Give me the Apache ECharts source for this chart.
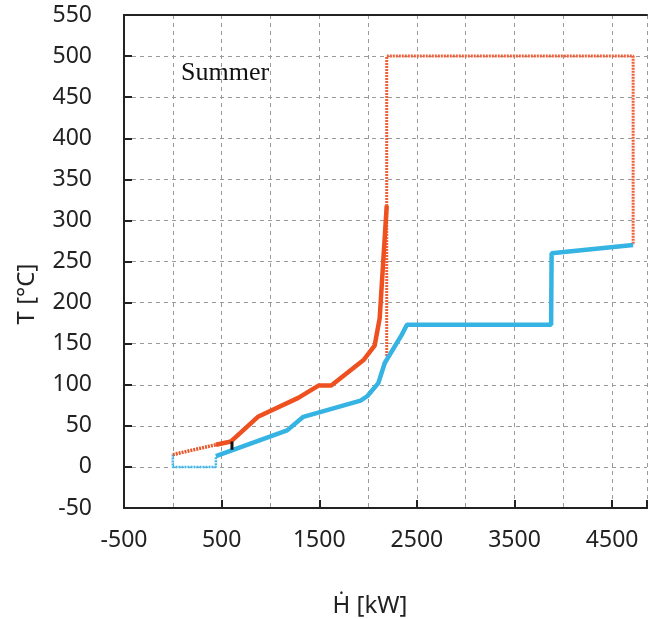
<!DOCTYPE html>
<html><head><meta charset="utf-8">
<script src="https://cdn.jsdelivr.net/npm/echarts@6/dist/echarts.min.js"></script>
<style>html,body{margin:0;padding:0;background:#fff}#c{width:650px;height:619px}</style>
</head><body><div id="c"></div>
<script>
// Hot composite curve (solid red)
const hotH = [441, 596, 872, 1285, 1492, 1623, 1957, 2067, 2119, 2191];
const hotT = [27, 31, 61, 84, 99, 99, 130.5, 147.5, 181, 318];
// Hot composite start segment (dotted)
const hotStartH = [0, 441];
const hotStartT = [15, 27];
// Hot utility (dotted red)
const hotUtilH = [2191, 2191, 4715, 4715];
const hotUtilT = [135, 500, 500, 270];
// Cold composite curve (solid blue)
const coldH = [441, 1171, 1337, 1923, 1991, 2105, 2171, 2346, 2398, 3875, 3880, 4715];
const coldT = [13, 44.5, 61, 80.6, 86, 102, 126.5, 161, 173, 173, 260, 270];
// Cold utility (dotted blue)
const coldUtilH = [0, 0, 441, 441];
const coldUtilT = [15, 0, 0, 12];
// Pinch marker
const pinchH = [606, 606];
const pinchT = [21, 31];
// Axis tick labels
const xLabels = [-500, 500, 1500, 2500, 3500, 4500];

const pairs = (a, b) => a.map((v, i) => [v, b[i]]);
const FONT = 'Noto Sans';
const grid = {left: 124, right: 0, top: 15, bottom: 111};
const gridLine = {show: true, lineStyle: {color: '#9a9a9a', type: [4, 4], width: 1}};
const axisLine = {show: true, onZero: false, lineStyle: {color: '#222', width: 2}};
const XMAX = 4857;

const chart = echarts.init(document.getElementById('c'));
chart.setOption({
  animation: false,
  grid: grid,
  xAxis: [
    {type: 'value', min: -500, max: XMAX, interval: 500, position: 'bottom',
     axisLine: axisLine, axisTick: {show: false}, splitLine: gridLine,
     axisLabel: {color: '#222', fontSize: 23, fontFamily: FONT, margin: 21,
       formatter: v => xLabels.indexOf(v) >= 0 ? String(v) : ''}},
    {type: 'value', min: -500, max: XMAX, interval: 1000, position: 'bottom',
     axisLine: axisLine, axisTick: {show: true, inside: true, length: 8, lineStyle: {color: '#222', width: 2}},
     splitLine: {show: false}, axisLabel: {show: false}},
    {type: 'value', min: -500, max: XMAX, position: 'top',
     axisLine: axisLine, axisTick: {show: false}, splitLine: {show: false}, axisLabel: {show: false}}
  ],
  yAxis: {type: 'value', min: -50, max: 550, interval: 50,
    axisLine: axisLine, axisTick: {show: true, inside: true, length: 8, lineStyle: {color: '#222', width: 2}},
    splitLine: gridLine,
    axisLabel: {color: '#222', fontSize: 23, fontFamily: FONT, margin: 32}},
  series: [
    {type: 'line', data: pairs(coldUtilH, coldUtilT), showSymbol: false, z: 3,
     lineStyle: {color: '#3db8ea', width: 2.5, type: [2, 1]}},
    {type: 'line', data: pairs(hotStartH, hotStartT), showSymbol: false, z: 3,
     lineStyle: {color: '#e8562a', width: 3.5, type: [2, 1]}},
    {type: 'line', data: pairs(hotUtilH, hotUtilT), showSymbol: false, z: 3,
     lineStyle: {color: '#f0603a', width: 3, type: [2, 1]}},
    {type: 'line', data: pairs(coldH, coldT), showSymbol: false, z: 4,
     lineStyle: {color: '#35b3e3', width: 4.5}},
    {type: 'line', data: pairs(hotH, hotT), showSymbol: false, z: 5,
     lineStyle: {color: '#ee5020', width: 4.5}},
    {type: 'line', data: pairs(pinchH, pinchT), showSymbol: false, z: 6,
     lineStyle: {color: '#111', width: 3}}
  ],
  graphic: [
    {type: 'text', left: 181, top: 60, style: {text: 'Summer', fontFamily: 'Liberation Serif', fontSize: 26, fill: '#111'}},
    {type: 'text', x: 27, y: 294, rotation: Math.PI / 2,
     style: {text: 'T [°C]', fontFamily: FONT, fontSize: 24, fill: '#222', align: 'center', verticalAlign: 'middle'}},
    {type: 'text', x: 370, y: 606,
     style: {text: 'Ḣ [kW]', fontFamily: FONT, fontSize: 24, fill: '#222', align: 'center', verticalAlign: 'middle'}}
  ]
});
</script></body></html>
